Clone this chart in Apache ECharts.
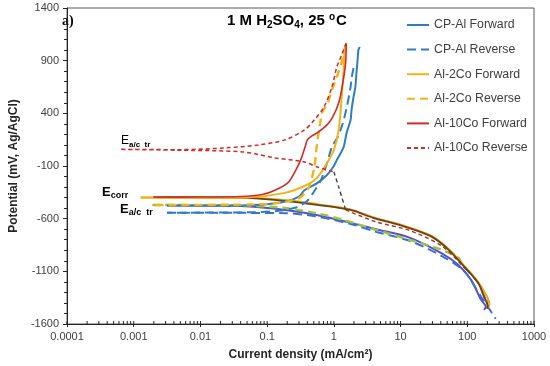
<!DOCTYPE html>
<html><head><meta charset="utf-8">
<script src="https://cdn.jsdelivr.net/npm/echarts@6/dist/echarts.min.js"></script>
<style>html,body{margin:0;padding:0;background:#fff}#c{width:550px;height:366px}</style>
</head><body><div id="c"></div>
<script>
// ---- tick labels ----
const xTickLabels = ['0.0001','0.001','0.01','0.1','1','10','100','1000'];
const yTickLabels = ['-1600','-1100','-600','-100','400','900','1400'];

// ---- series data: [current density (mA/cm2), potential (mV)] ----
const cpAlFwdAnodic = [[0.00316,-475],[0.02,-476],[0.08,-468],[0.18,-440],[0.3,-390],[0.362,-330],[0.562,-262],[0.789,-186],[1.0,-100],[1.107,-43],[1.4,80],[1.55,213],[1.78,337],[1.84,430],[1.97,555],[2.1,650],[2.18,783],[2.25,880],[2.33,1000],[2.45,1030]];
const cpAlFwdCathodic = [[0.00316,-475],[0.04,-480],[0.184,-517],[0.6,-570],[1.78,-640],[4.29,-700],[13.6,-780],[41.5,-930],[73.7,-1040],[114,-1181],[161,-1371],[190,-1437],[178,-1466]];
const cpAlRevAnodic = [[1.97,831],[1.85,740],[1.78,650],[1.55,450],[1.35,300],[1.15,180],[0.935,81],[0.79,-71],[0.644,-230],[0.52,-330],[0.4,-430],[0.28,-490],[0.15,-525],[0.05,-540],[0.00316,-543]];
const cpAlRevCathodic = [[0.00316,-543],[0.05,-545],[0.184,-548],[0.5,-575],[1.78,-650],[4.29,-725],[13.6,-810],[41.5,-955],[90,-1100],[161,-1342],[210,-1450],[266,-1550]];
const al2CoFwdAnodic = [[0.00127,-400],[0.01,-401],[0.05,-398],[0.184,-355],[0.362,-290],[0.562,-210],[0.789,-71],[1.0,53],[1.18,242],[1.31,556],[1.40,812],[1.45,1002],[1.5,1049]];
const al2CoFwdCathodic = [[0.00127,-400],[0.05,-403],[0.184,-422],[0.562,-462],[1.78,-512],[3.87,-586],[11.8,-672],[29.5,-766],[52.6,-888],[90.3,-1048],[145,-1200],[190,-1320],[215,-1410],[205,-1440]];
const al2CoRevAnodic = [[1.5,1049],[1.3,880],[1.107,745],[0.935,622],[0.79,480],[0.68,420],[0.62,300],[0.57,150],[0.54,24],[0.51,-109],[0.46,-230],[0.40,-330],[0.30,-405],[0.15,-450],[0.05,-466],[0.0019,-470]];
const al2CoRevCathodic = [[0.0019,-470],[0.043,-476],[0.184,-498],[0.562,-550],[1.4,-612],[4.29,-706],[13.6,-801],[41.5,-896],[73.7,-972],[81.6,-1019],[145,-1209],[203,-1371],[210,-1400]];
const al10CoFwdAnodic = [[0.00197,-396],[0.01,-395],[0.04,-390],[0.0844,-370],[0.131,-330],[0.204,-260],[0.27,-137],[0.327,-23],[0.37,80],[0.401,148],[0.48,190],[0.562,214],[0.789,290],[0.95,360],[1.18,499],[1.36,688],[1.5,878],[1.53,1058]];
const al10CoFwdCathodic = [[0.00197,-396],[0.04,-400],[0.184,-431],[0.562,-469],[1.78,-517],[3.87,-592],[11.8,-678],[29.5,-773],[52.6,-896],[90.3,-1057],[145,-1209],[178,-1342],[203,-1437],[195,-1455]];
const al10CoRevAnodic = [[1.53,1068],[1.3,950],[1.107,840],[0.935,650],[0.713,461],[0.508,337],[0.362,242],[0.184,148],[0.0738,100],[0.0241,72],[0.00444,55],[0.000622,58],[0.00444,50],[0.0429,34],[0.131,-23],[0.362,-61],[0.562,-109],[1.0,-156]];
const al10CoRevDrop = [[1.0,-156],[1.18,-298],[1.5,-517]];
const al10CoRevCathodic = [[1.5,-517],[4.29,-630],[13.6,-712],[41.5,-860],[90.3,-1065],[145,-1210],[203,-1420]];

// minor tick positions for the log axis (decoration only)
const xMinorTicks = [];
for (let k = -4; k <= 2; k++) for (let m = 1; m <= 9; m++) xMinorTicks.push([m * Math.pow(10, k), -1600]);
xMinorTicks.push([1000, -1600]);

const BLUE = '#2F7EC2', GOLD = '#F0B31A', RED = '#D42A2A';

function line(name, data, color, width, dash, z) {
  return {
    type: 'line', name: name, data: data, symbol: 'none', showSymbol: false, smooth: 0.3, z: z || 2,
    lineStyle: { color: color, width: width, type: dash || 'solid' },
    itemStyle: { color: color }, silent: true, animation: false, clip: true
  };
}

const chart = echarts.init(document.getElementById('c'), null, { renderer: 'canvas' });
chart.setOption({
  animation: false,
  grid: { left: 58, right: 16, top: 8, bottom: 42, show: true, borderColor: '#595959', borderWidth: 1 },
  xAxis: {
    type: 'log', logBase: 10, min: 0.0001, max: 1000,
    name: 'Current density (mA/cm²)', nameLocation: 'middle', nameGap: 25,
    nameTextStyle: { fontSize: 12, fontWeight: 'bold', color: '#262626', fontFamily: 'Liberation Sans' },
    axisLine: { onZero: false, lineStyle: { color: '#262626', width: 1 } },
    axisTick: { show: true, inside: false, length: 3, lineStyle: { color: '#262626' } },
    axisLabel: { fontSize: 11, color: '#404040', margin: 7, fontFamily: 'Liberation Sans',
      formatter: v => { const i = Math.round(Math.log10(v)) + 4; return xTickLabels[i] || ''; } },
    splitLine: { show: false }, minorTick: { show: false }
  },
  yAxis: {
    type: 'value', min: -1600, max: 1400, interval: 500,
    name: 'Potential (mV, Ag/AgCl)', nameLocation: 'middle', nameGap: 39,
    nameTextStyle: { fontSize: 12, fontWeight: 'bold', color: '#262626', fontFamily: 'Liberation Sans' },
    axisLine: { show: true, onZero: false, lineStyle: { color: '#262626', width: 1 } },
    axisTick: { show: true, inside: false, length: 4, lineStyle: { color: '#262626' } },
    minorTick: { show: true, splitNumber: 5, length: 3, lineStyle: { color: '#262626' } },
    axisLabel: { fontSize: 11, color: '#404040', margin: 8, fontFamily: 'Liberation Sans',
      formatter: v => { const i = Math.round((v + 1600) / 500); return yTickLabels[i] || ''; } },
    splitLine: { show: false }
  },
  legend: {
    orient: 'vertical', left: 401, top: 14, itemWidth: 22, itemHeight: 12, itemGap: 12.6,
    itemStyle: { opacity: 0 },
    textStyle: { fontSize: 12.3, color: '#404040', fontFamily: 'Liberation Sans' },
    data: ['CP-Al Forward', 'CP-Al Reverse', 'Al-2Co Forward', 'Al-2Co Reverse', 'Al-10Co Forward', 'Al-10Co Reverse']
  },
  series: [
    line('cpFwdCat', cpAlFwdCathodic, '#5652C8', 2, 'solid', 1),
    line('cpRevCat', cpAlRevCathodic, '#3A6FD8', 2, [9, 5], 1),
    line('a2RevCat', al2CoRevCathodic, '#9BC53D', 2.4, [8, 5], 1),
    line('a10RevCat', al10CoRevCathodic, '#B0302A', 1.4, [4, 3], 1),
    line('a2FwdCat', al2CoFwdCathodic, '#E3A92A', 2, 'solid', 1),
    line('a10FwdCat', al10CoFwdCathodic, '#6E4212', 1.8, 'solid', 1),
    line('a10RevDrop', al10CoRevDrop, '#4B3B33', 1.4, [4, 3], 1),
    line('CP-Al Forward', cpAlFwdAnodic, BLUE, 2, 'solid', 3),
    line('CP-Al Reverse', cpAlRevAnodic, BLUE, 2, [9, 5], 3),
    line('Al-2Co Forward', al2CoFwdAnodic, GOLD, 2, 'solid', 3),
    line('Al-2Co Reverse', al2CoRevAnodic, GOLD, 2.4, [8, 5], 3),
    line('Al-10Co Forward', al10CoFwdAnodic, RED, 1.6, 'solid', 4),
    line('Al-10Co Reverse', al10CoRevAnodic, RED, 1.5, [4, 3], 4),
    {
      type: 'custom', silent: true, z: 5, clip: false, data: xMinorTicks,
      renderItem: (params, api) => {
        const p = api.coord([api.value(0), api.value(1)]);
        return { type: 'line', shape: { x1: p[0], y1: p[1], x2: p[0], y2: p[1] - 3 },
                 style: { stroke: '#262626', lineWidth: 1 } };
      }
    }
  ],
  graphic: [
    { type: 'text', left: 62, top: 14, style: { text: 'a)', font: 'bold 14px "Liberation Serif", serif', fill: '#000' } },
    { type: 'text', left: 227, top: 12, style: {
        text: '{b|1 M H}{s|2}{b|SO}{s|4}{b|, 25 }{p|o}{b|C}', fill: '#000',
        rich: {
          b: { fontSize: 15, fontWeight: 'bold', fontFamily: 'Liberation Sans' },
          s: { fontSize: 10, fontWeight: 'bold', fontFamily: 'Liberation Sans', padding: [9, 0, 0, 0] },
          p: { fontSize: 10, fontWeight: 'bold', fontFamily: 'Liberation Sans', padding: [0, 1, 8, 0] }
        } } },
    { type: 'text', left: 121, top: 135, style: {
        text: '{e|E}{s|a/c  tr}', fill: '#000',
        rich: { e: { fontSize: 12, fontFamily: 'Liberation Sans' },
                s: { fontSize: 8, fontWeight: 'bold', fontFamily: 'Liberation Sans', padding: [7, 0, 0, 0] } } } },
    { type: 'text', left: 102, top: 186, style: {
        text: '{e|E}{s|corr}', fill: '#000',
        rich: { e: { fontSize: 13, fontWeight: 'bold', fontFamily: 'Liberation Sans' },
                s: { fontSize: 9, fontWeight: 'bold', fontFamily: 'Liberation Sans', padding: [7, 0, 0, 0] } } } },
    { type: 'text', left: 120, top: 203, style: {
        text: '{e|E}{s|a/c  tr}', fill: '#000',
        rich: { e: { fontSize: 13, fontWeight: 'bold', fontFamily: 'Liberation Sans' },
                s: { fontSize: 9, fontWeight: 'bold', fontFamily: 'Liberation Sans', padding: [7, 0, 0, 0] } } } }
  ]
});
</script></body></html>
